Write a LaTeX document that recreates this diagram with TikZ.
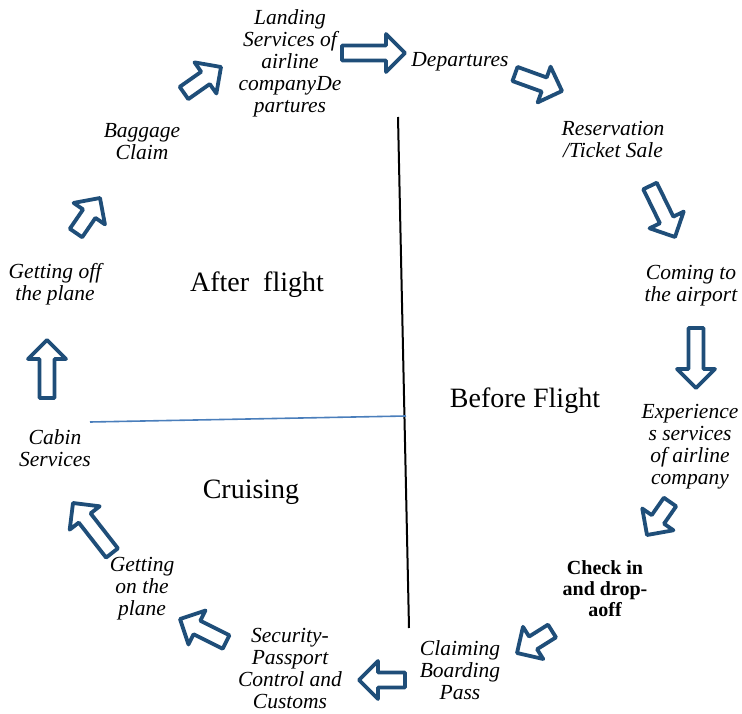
\documentclass[tikz,border=0pt]{standalone}
\usepackage{fontspec}
\setmainfont{Liberation Serif}
\usetikzlibrary{calc}
\definecolor{arrblue}{HTML}{1F4E79}
\definecolor{lineblue}{HTML}{4A7EBB}
\def\arrS{7.5pt}
\def\arrH{19pt}
\def\arrL{19pt}
\newcommand\blockarr[2]{%
  \coordinate (#1#2c) at ($(#2)!\arrL!(#1)$);
  \draw[blockarr] ($(#1)!\arrS!90:(#2)$) -- ($(#1#2c)!\arrS!90:(#2)$) -- ($(#1#2c)!\arrH!90:(#2)$) -- (#2)
    -- ($(#1#2c)!\arrH!-90:(#2)$) -- ($(#1#2c)!\arrS!-90:(#2)$) -- ($(#1)!\arrS!-90:(#2)$) -- cycle;}
\tikzset{
  blockarr/.style={draw=arrblue, fill=white, line width=3.8pt, line join=round},
  lbl/.style={font=\fontsize{21.5}{22}\selectfont\itshape, align=center, inner sep=0pt},
  blbl/.style={font=\fontsize{20}{21}\selectfont\bfseries, align=center, inner sep=0pt},
  big/.style={font=\fontsize{28}{30}\selectfont, inner sep=0pt},
}
\begin{document}
\begin{tikzpicture}[x=1pt,y=1pt]
\useasboundingbox (0,0) rectangle (742,-714);
% dividing lines
\coordinate (vtop) at (398,-117);
\coordinate (vbot) at (409,-628);
\coordinate (hleft) at (90,-422);
\coordinate (hright) at (406,-416);
\draw[line width=2pt] (vtop) -- (vbot);
\draw[lineblue, line width=1.6pt] (hleft) -- (hright);
% section labels
\node[big] (after) at (257,-285) {After\ \ flight};
\node[big] (before) at (525,-401) {Before Flight};
\node[big] (cruise) at (251,-492) {Cruising};
% step labels
\node[lbl] (landing) at (290,-63) {Landing\\Services of\\airline\\companyDe\\partures};
\node[lbl] (depart) at (460,-62) {Departures};
\node[lbl] (reserv) at (613,-139) {Reservation\\/Ticket Sale};
\node[lbl] (coming) at (691,-286) {Coming to\\the airport};
\node[lbl] (exper) at (690,-447) {Experience\\s services\\of airline\\company};
\node[blbl] (check) at (605,-589) {Check in\\and drop-\\aoff};
\node[lbl] (claim) at (460,-670) {Claiming\\Boarding\\Pass};
\node[lbl] (secur) at (290,-669) {Security-\\Passport\\Control and\\Customs};
\node[lbl] (geton) at (142,-589) {Getting\\on the\\plane};
\node[lbl] (cabin) at (55,-448) {Cabin\\Services};
\node[lbl] (getoff) at (55,-284) {Getting off\\the plane};
\node[lbl] (bag) at (142,-142) {Baggage\\Claim};
% arrow end points
\coordinate (t1) at (184,-93);  \coordinate (h1) at (221,-67);
\coordinate (t2) at (342,-53);  \coordinate (h2) at (405,-53);
\coordinate (t3) at (515,-74);  \coordinate (h3) at (562,-91);
\coordinate (t4) at (650,-186); \coordinate (h4) at (675,-237);
\coordinate (t5) at (696,-328); \coordinate (h5) at (696,-388);
\coordinate (t6) at (670,-502); \coordinate (h6) at (647,-535);
\coordinate (t7) at (552,-631); \coordinate (h7) at (517,-653);
\coordinate (t8) at (405,-680); \coordinate (h8) at (359,-680);
\coordinate (t9) at (226,-642); \coordinate (h9) at (180,-619);
\coordinate (t10) at (112,-553); \coordinate (h10) at (73,-503);
\coordinate (t11) at (47,-398); \coordinate (h11) at (47,-340);
\coordinate (t12) at (76,-233); \coordinate (h12) at (100,-198);
\blockarr{t1}{h1}
\blockarr{t2}{h2}
\blockarr{t3}{h3}
\blockarr{t4}{h4}
\blockarr{t5}{h5}
\blockarr{t6}{h6}
\blockarr{t7}{h7}
\blockarr{t8}{h8}
\blockarr{t9}{h9}
\blockarr{t10}{h10}
\blockarr{t11}{h11}
\blockarr{t12}{h12}
\end{tikzpicture}
\end{document}
